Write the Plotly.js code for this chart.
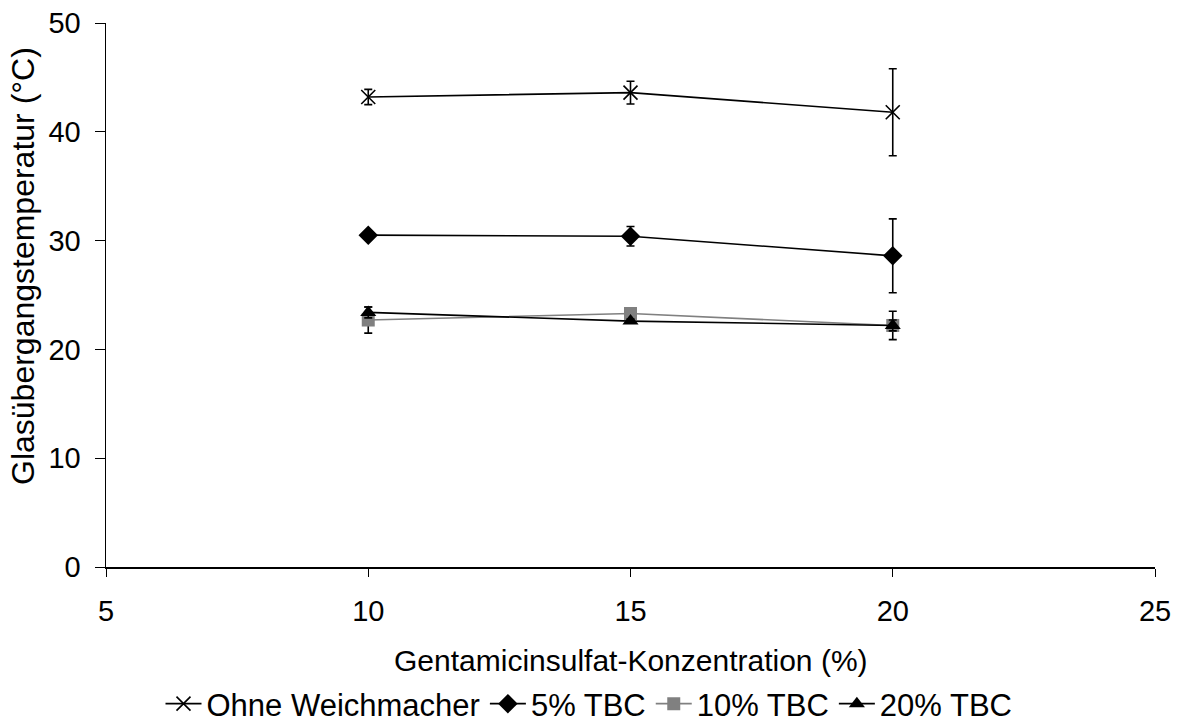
<!DOCTYPE html>
<html>
<head>
<meta charset="utf-8">
<script src="https://cdn.plot.ly/plotly-3.0.1.min.js"></script>
<style>html,body{margin:0;padding:0;background:#fff;}#chart{width:1178px;height:726px;}</style>
</head>
<body>
<div id="chart"></div>
<script>
const concentrations = [10, 15, 20];
const seriesNames = ["Ohne Weichmacher", "5% TBC", "10% TBC", "20% TBC"];
const ohneValues = [43.2, 43.6, 41.8];
const ohneErrors = [0.7, 1.05, 4.0];
const tbc5Values = [30.5, 30.4, 28.6];
const tbc5Errors = [0.2, 0.9, 3.4];
const tbc10Values = [22.7, 23.3, 22.2];
const tbc10Errors = [1.2, 0.3, 1.3];
const tbc20Values = [23.4, 22.6, 22.2];
const tbc20Errors = [0.5, 0.2, 0.5];
const xTitle = "Gentamicinsulfat-Konzentration (%)";
const yTitle = "Glasübergangstemperatur (°C)";

const family = "Liberation Sans, Arial, sans-serif";
const font = {family: family, size: 29, color: "#000"};
const legendFont = {family: family, size: 31, color: "#000"};
const yTitleFont = {family: family, size: 32, color: "#000"};
const xTitleFont = {family: family, size: 30, color: "#000"};

function mk(name, y, err, color, symbol, size) {
  return {
    x: concentrations, y: y, name: name, type: "scatter", mode: "lines+markers",
    line: {color: color, width: 1.6},
    marker: {symbol: symbol, size: size, color: color, line: {color: color, width: symbol.indexOf("open") >= 0 ? 1.6 : 0}},
    error_y: {type: "data", array: err, visible: true, color: "#000", thickness: 1.6, width: 4}
  };
}

const data = [
  mk(seriesNames[0], ohneValues, ohneErrors, "#000", "x-thin-open", 14),
  mk(seriesNames[1], tbc5Values, tbc5Errors, "#000", "diamond", 15),
  mk(seriesNames[2], tbc10Values, tbc10Errors, "#808080", "square", 13),
  mk(seriesNames[3], tbc20Values, tbc20Errors, "#000", "triangle-up", 14)
];

const layout = {
  width: 1178, height: 726,
  margin: {l: 106, r: 23, t: 23, b: 159, autoexpand: false},
  paper_bgcolor: "#fff", plot_bgcolor: "#fff",
  font: font,
  showlegend: true,
  legend: {orientation: "h", x: 0.5, xanchor: "center", xref: "container", y: 22/726, yanchor: "middle", yref: "container", font: legendFont, itemwidth: 36, tracegroupgap: 0},
  xaxis: {
    range: [5, 25], dtick: 5, tick0: 5, showgrid: false, zeroline: false, automargin: false,
    showline: true, linecolor: "#000", linewidth: 1.5,
    ticks: "outside", ticklen: 8, tickcolor: "#000", tickwidth: 1,
    tickfont: font, ticklabelstandoff: 10
  },
  yaxis: {
    range: [0, 50], dtick: 10, showgrid: false, zeroline: false, automargin: false,
    showline: true, linecolor: "#000", linewidth: 1.5,
    ticks: "outside", ticklen: 10, tickcolor: "#000", tickwidth: 1,
    tickfont: font, ticklabelstandoff: 8
  },
  annotations: [
    {text: xTitle, xref: "paper", yref: "paper", x: 0.5, y: (567 - 660) / 544, xanchor: "center", yanchor: "middle", showarrow: false, font: xTitleFont},
    {text: yTitle, xref: "paper", yref: "paper", x: (23 - 106) / 1049, y: (567 - 266) / 544, xanchor: "center", yanchor: "middle", textangle: -90, showarrow: false, font: yTitleFont}
  ]
};

Plotly.newPlot("chart", data, layout, {displayModeBar: false, staticPlot: true});
</script>
</body>
</html>
